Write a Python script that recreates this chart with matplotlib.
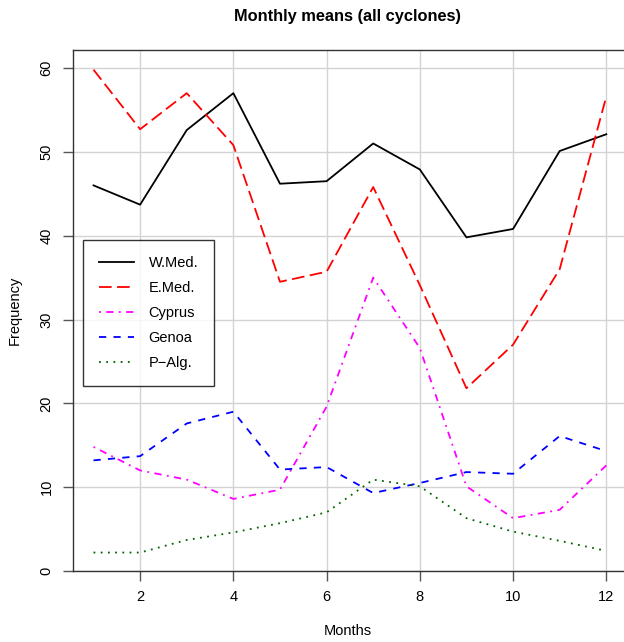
import matplotlib
matplotlib.use("Agg")
import matplotlib.pyplot as plt

plt.rcParams['font.family'] = ['Liberation Sans', 'DejaVu Sans']

# Monthly mean cyclone counts per region
months = [1, 2, 3, 4, 5, 6, 7, 8, 9, 10, 11, 12]
wmed = [46.0, 43.7, 52.6, 57.0, 46.2, 46.5, 51.0, 47.9, 39.8, 40.8, 50.1, 52.1]
emed = [59.8, 52.7, 57.0, 50.8, 34.5, 35.7, 45.8, 34.1, 21.8, 27.0, 36.0, 56.6]
cyprus = [14.8, 12.0, 10.9, 8.6, 9.7, 19.6, 35.0, 26.6, 10.1, 6.3, 7.3, 12.6]
genoa = [13.2, 13.7, 17.6, 19.0, 12.1, 12.4, 9.3, 10.5, 11.8, 11.6, 16.1, 14.3]
palg = [2.2, 2.2, 3.7, 4.6, 5.7, 7.0, 10.9, 10.1, 6.3, 4.7, 3.6, 2.4]

labels = ["W.Med.", "E.Med.", "Cyprus", "Genoa", "P\u2212Alg."]

W, H = 624, 642
fig = plt.figure(figsize=(W / 100, H / 100), dpi=100)
ax = fig.add_axes([73 / W, 1 - 571 / H, 1 - 73 / W, (571 - 50) / H])

lw = 1.3
ax.plot(months, wmed, color="black", lw=lw, label=labels[0])
ax.plot(months, emed, color="red", lw=lw, dashes=(7, 3), label=labels[1])
ax.plot(months, cyprus, color="magenta", lw=lw, dashes=(1, 3, 4, 3), label=labels[2])
ax.plot(months, genoa, color="blue", lw=lw, dashes=(4, 4), label=labels[3])
ax.plot(months, palg, color="darkgreen", lw=lw, dashes=(1, 3), label=labels[4])

ax.set_xlim(0.56, 12.38)
ax.set_ylim(0, 62.15)
ax.set_xticks([2, 4, 6, 8, 10, 12])
ax.set_yticks([0, 10, 20, 30, 40, 50, 60])
ax.grid(True, color="#d3d3d3", lw=1)
ax.set_axisbelow(True)

for s in ["left", "top", "bottom"]:
    ax.spines[s].set_color("#333333")
    ax.spines[s].set_linewidth(1.0)
ax.spines["right"].set_visible(False)

ax.tick_params(axis="both", direction="out", length=7, width=1, color="#555555",
               labelsize=10.5, pad=7)
for t in ax.get_yticklabels():
    t.set_rotation(90)
    t.set_va("center")

fig.text(348 / W, 1 - 17 / H, "Monthly means (all cyclones)", ha="center", va="center",
         fontsize=11.8, fontweight="bold")
fig.text(348 / W, 1 - 631 / H, "Months", ha="center", va="center", fontsize=10.5)
fig.text(15 / W, 1 - 310 / H, "Frequency", ha="center", va="center", fontsize=10.5,
         rotation=90)

leg = ax.legend(loc="upper left", bbox_to_anchor=((83 - 73) / (W - 73), (571 - 240) / 521),
                frameon=True, fancybox=False, edgecolor="black", fontsize=10.5,
                handlelength=2.4, handletextpad=1.0, labelspacing=0.75,
                borderpad=1.1, borderaxespad=0)
leg.get_frame().set_linewidth(1.0)

fig.savefig("out.png", dpi=100)
